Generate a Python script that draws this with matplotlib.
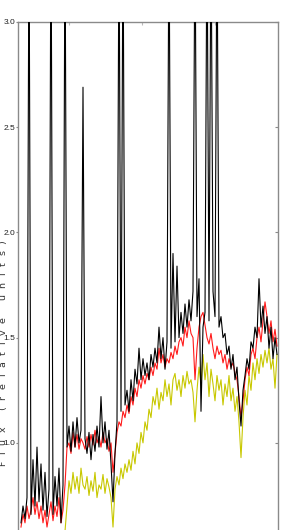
import matplotlib
matplotlib.use("Agg")
import matplotlib.pyplot as plt

# Spectra (relative flux), sampled uniformly across the plotted range
flux_black = [
    0.62, 0.70, 0.64, 0.74, 3.50, 0.66, 0.92, 0.70, 0.98, 0.72,
    0.90, 0.68, 0.86, 0.65, 0.78, 3.60, 0.66, 0.84, 0.70, 0.88,
    0.62, 0.80, 3.50, 0.98, 1.08, 0.96, 1.10, 0.98, 1.12, 1.00,
    1.06, 2.69, 1.02, 0.95, 1.05, 0.92, 1.04, 0.96, 1.08, 0.98,
    1.22, 1.00, 1.10, 0.97, 1.06, 0.90, 0.72, 0.95, 1.10, 3.50,
    1.15, 3.50, 1.18, 1.25, 1.15, 1.30, 1.20, 1.35, 1.28, 1.45,
    1.30, 1.40, 1.32, 1.38, 1.30, 1.42, 1.36, 1.45, 1.38, 1.55,
    1.40, 1.50, 1.35, 1.48, 3.50, 1.45, 1.90, 1.48, 1.84, 1.50,
    1.62, 1.52, 1.66, 1.55, 1.68, 1.58, 1.72, 3.50, 1.60, 1.78,
    1.15, 1.55, 1.62, 3.50, 1.58, 3.50, 1.72, 1.60, 3.50, 1.55,
    1.60, 1.50, 1.52, 1.42, 1.46, 1.35, 1.42, 1.30, 1.36, 1.20,
    1.08, 1.25, 1.32, 1.40, 1.35, 1.48, 1.45, 1.55, 1.50, 1.78,
    1.55, 1.65, 1.52, 1.60, 1.45, 1.55, 1.40, 1.50, 1.42,
]

flux_red = [
    0.60, 0.66, 0.62, 0.70, 0.64, 0.68, 0.74, 0.66, 0.72, 0.64,
    0.70, 0.62, 0.68, 0.60, 0.66, 0.72, 0.63, 0.70, 0.65, 0.74,
    0.62, 0.68, 0.80, 0.98, 1.00, 0.95, 1.05, 0.98, 1.04, 0.97,
    1.02, 1.00, 0.97, 1.03, 0.98, 1.04, 0.99, 1.06, 1.00, 1.03,
    0.98, 1.05, 1.00, 1.02, 0.96, 1.00, 0.86, 0.95, 1.05, 1.10,
    1.08, 1.15, 1.12, 1.18, 1.14, 1.22, 1.18, 1.26, 1.22, 1.30,
    1.26, 1.32, 1.28, 1.33, 1.30, 1.36, 1.32, 1.38, 1.35, 1.45,
    1.38, 1.42, 1.36, 1.40, 1.38, 1.43, 1.40, 1.46, 1.42, 1.48,
    1.50, 1.46, 1.55, 1.50, 1.58, 1.52, 1.50, 1.30, 1.45, 1.55,
    1.60, 1.62, 1.56, 1.50, 1.47, 1.52, 1.45, 1.40, 1.46, 1.42,
    1.44, 1.38, 1.42, 1.35, 1.40, 1.36, 1.38, 1.33, 1.30, 1.22,
    1.12, 1.20, 1.30, 1.36, 1.32, 1.42, 1.45, 1.40, 1.50, 1.55,
    1.48, 1.58, 1.67, 1.60, 1.52, 1.58, 1.48, 1.54, 1.46,
]

flux_yellow = [
    0.45, 0.48, 0.46, 0.50, 0.47, 0.49, 0.52, 0.48, 0.51, 0.47,
    0.50, 0.46, 0.49, 0.45, 0.48, 0.51, 0.46, 0.50, 0.48, 0.52,
    0.47, 0.50, 0.58, 0.70, 0.82, 0.76, 0.86, 0.78, 0.84, 0.76,
    0.88, 0.80, 0.78, 0.84, 0.75, 0.82, 0.77, 0.86, 0.74, 0.80,
    0.78, 0.85, 0.76, 0.83, 0.79, 0.74, 0.60, 0.78, 0.84, 0.80,
    0.88, 0.83, 0.90, 0.86, 0.92, 0.87, 0.96, 0.90, 1.00, 0.95,
    1.05, 1.00, 1.10, 1.06, 1.16, 1.12, 1.22, 1.18, 1.26, 1.16,
    1.24, 1.20, 1.30, 1.22, 1.28, 1.18, 1.30, 1.33, 1.25, 1.30,
    1.22, 1.32, 1.26, 1.34, 1.28, 1.30, 1.24, 1.10, 1.25, 1.36,
    1.28, 1.42, 1.30, 1.38, 1.22, 1.35, 1.28, 1.20, 1.32, 1.25,
    1.30, 1.18, 1.28, 1.22, 1.32, 1.20, 1.26, 1.15, 1.22, 1.10,
    0.93, 1.12, 1.25, 1.18, 1.32, 1.25, 1.38, 1.30, 1.40, 1.33,
    1.42, 1.36, 1.44, 1.38, 1.45, 1.35, 1.40, 1.26, 1.42,
]

ytick_values = [1.0, 1.5, 2.0, 2.5, 3.0]
ytick_labels = ["1.0", "1.5", "2.0", "2.5", "3.0"]
ylabel_text = "Flux (relative units)"

W, H = 283, 530
fig = plt.figure(figsize=(W / 100, H / 100), dpi=100)
ax = fig.add_axes([18 / W, 0.0, 260 / W, 1 - 22 / H])

idx = list(range(len(flux_black)))
ax.plot(idx, flux_yellow, color="#c8c800", lw=0.8, zorder=2)
ax.plot(idx, flux_red, color="#ff1a1a", lw=0.8, zorder=3)
ax.plot(idx, flux_black, color="#000000", lw=0.8, zorder=4)

ax.set_xlim(-1.5, 128.5)
ax.set_ylim(0.586, 3.0)

spine_col = "#8a8a8a"
for s in ["left", "right", "top"]:
    ax.spines[s].set_color(spine_col)
    ax.spines[s].set_linewidth(1.0)
ax.spines["bottom"].set_visible(False)

ax.set_yticks(ytick_values)
ax.set_yticklabels(ytick_labels)
ax.tick_params(axis="y", which="both", left=True, right=True, direction="out",
               length=1.5, width=0.8, color=spine_col, labelsize=6,
               labelcolor="#222222", pad=0.3)
for lab in ax.get_yticklabels():
    lab.set_family(["Liberation Sans", "DejaVu Sans"])
for t in ax.yaxis.get_major_ticks():
    t.tick2line.set_marker(matplotlib.lines.TICKLEFT)
    t.tick2line.set_markersize(2)

ax.set_xticks([24, 60.5, 97])
ax.tick_params(axis="x", bottom=False, top=True, labelbottom=False,
               labeltop=False, direction="in", length=2, width=0.8,
               color="#bbbbbb")

# y label with wide letter spacing
renderer = fig.canvas.get_renderer()
x_fig = 3.0 / W
y_start = 466  # pixel row (from top) of the first character
y_end = 240
fs = 6.8
chars = list(ylabel_text)
widths = []
for ch in chars:
    t = fig.text(0, 0, ch, fontsize=fs, color="#333333", rotation=90,
                 ha="center", va="center")
    bb = t.get_window_extent(renderer)
    widths.append(bb.height)
    t.remove()
natural = sum(widths)
total = y_start - y_end
gap = (total - natural) / (len(chars) - 1)
pos = y_start
for ch, w in zip(chars, widths):
    centre = pos - w / 2
    fig.text(x_fig, 1 - centre / H, ch, fontsize=fs, color="#333333",
             rotation=90, ha="center", va="center")
    pos -= w + gap

fig.savefig("out.png", dpi=100)
